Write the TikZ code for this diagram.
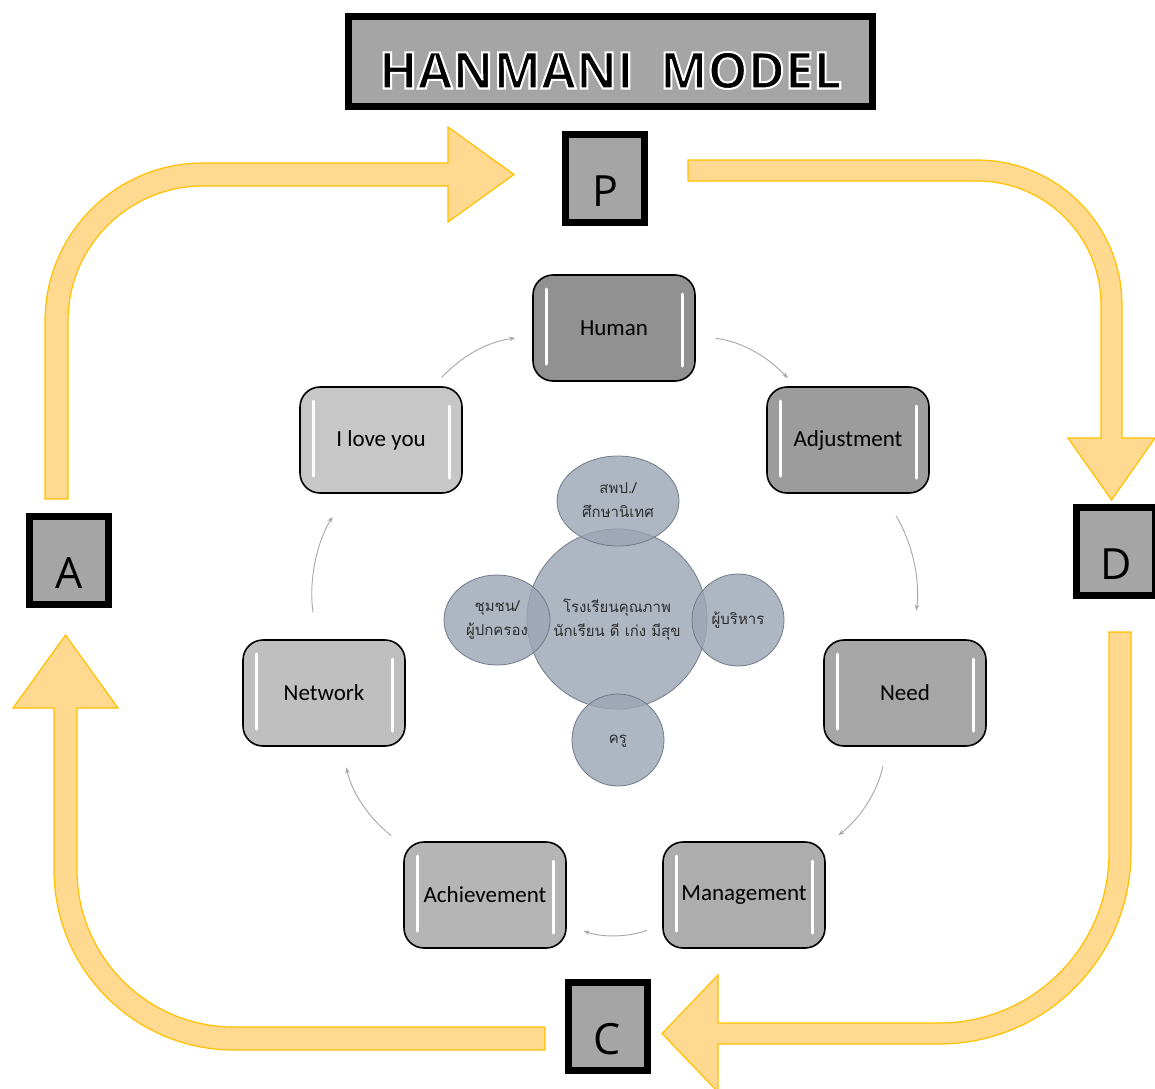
\documentclass[tikz,border=0pt]{standalone}
\usepackage{fontspec}
\setmainfont{Carlito}
\newfontfamily\thaifont[Script=Thai]{Loma}
\newfontfamily\letfont{Open Sans}
\newfontfamily\titlefont[FakeBold=4]{Open Sans}
\usetikzlibrary{arrows.meta}

\begin{document}
\begin{tikzpicture}[x=1pt,y=-1pt,
  mybox/.style={draw=black,line width=1.6pt,rounded corners=20pt,minimum width=162pt,minimum height=106pt,inner sep=0pt,
    font=\fontsize{23}{27}\selectfont,
    path picture={
      \draw[white,line width=3pt,line cap=round] ([xshift=13pt,yshift=-14pt]path picture bounding box.north west) -- ([xshift=13pt,yshift=17pt]path picture bounding box.south west);
      \draw[white,line width=3pt,line cap=round] ([xshift=-13pt,yshift=-19pt]path picture bounding box.north east) -- ([xshift=-13pt,yshift=15pt]path picture bounding box.south east);}},
  mylet/.style={draw=black,line width=7pt,fill=letgray,minimum width=79pt,minimum height=88pt,inner sep=0pt,
    text height=55pt,text depth=0pt,font=\letfont\fontsize{43}{43}\selectfont},
  cyc/.style={draw=cycgray,line width=0.9pt,-{Stealth[length=6pt,width=4.5pt]}},
  mybub/.style={fill=bubfill,fill opacity=0.8,draw=bubline,line width=0.8pt},
  bubtxt/.style={align=center,text=bubtext,font=\thaifont\fontsize{15}{24}\selectfont},
  myarrow/.style={fill=arrfill,draw=arrline,line width=1.2pt}]
\definecolor{letgray}{HTML}{A5A5A5}
\definecolor{cycgray}{HTML}{A6A6A6}
\definecolor{bubfill}{HTML}{9AA4B3}
\definecolor{bubline}{HTML}{6F7A8A}
\definecolor{bubtext}{HTML}{2E2E2E}
\definecolor{arrfill}{HTML}{FFD98F}
\definecolor{arrline}{HTML}{FFC000}
\useasboundingbox (0,0) rectangle (1155,1088);

% big orange arrows
\draw[myarrow] (45,499) -- (45,321) arc[start angle=180,end angle=270,radius=158] -- (448,163) -- (448,127) -- (514,174.5)
  -- (448,222) -- (448,186) -- (203,186) arc[start angle=270,end angle=180,radius=135] -- (68,499) -- cycle;
\draw[myarrow] (688,160) -- (977,160) arc[start angle=270,end angle=360,radius=145] -- (1122,438) -- (1155,438) -- (1111.5,500)
  -- (1068,438) -- (1101,438) -- (1101,305) arc[start angle=0,end angle=-90,radius=124] -- (688,181) -- cycle;
\draw[myarrow] (1109,632) -- (1131,632) -- (1131,852) arc[start angle=0,end angle=90,radius=192] -- (718,1044) -- (718,1092)
  -- (662,1033.5) -- (718,975) -- (718,1023) -- (939,1023) arc[start angle=90,end angle=0,radius=170] -- cycle;
\draw[myarrow] (545,1027) -- (545,1050) -- (234,1050) arc[start angle=90,end angle=180,radius=180] -- (54,708) -- (13,708)
  -- (65.5,635) -- (118,708) -- (77,708) -- (77,870) arc[start angle=180,end angle=90,radius=157] -- cycle;

% title and PDCA letters
\node[draw=black,line width=7pt,fill=letgray,minimum width=524pt,minimum height=90pt,inner sep=0pt,
  text height=54pt,text depth=0pt,font=\titlefont\bfseries\fontsize{50.5}{50.5}\selectfont] (title) at (610.5,61.5)
  {\special{pdf:literal direct 1 1 1 RG}HANMANI\ \ MODEL\special{pdf:literal direct 0 0 0 RG}};
\foreach \ltr/\px/\py in {P/605/178.5, D/1116/551.5, C/607.5/1026.5, A/69/560.5}
  {\node[mylet] (\ltr) at (\px,\py) {\ltr};}

% cycle of boxes
\foreach \nm/\txt/\gr/\px/\py in {human/Human/57/614/328, adj/Adjustment/61/848/440, need/Need/65/905/693,
  mgmt/Management/68/744/895, ach/Achievement/71/485/895, net/Network/75/324/693, love/I love you/78/381/440}
  {\node[mybox,fill=white!\gr!black] (\nm) at (\px,\py) {\txt};}
\foreach \a/\b/\s/\e in {human/adj/20/11, adj/need/26/29, need/mgmt/20/16, mgmt/ach/16/18,
  ach/net/15/21, net/love/27/27, love/human/12/17}
  {\draw[cyc,shorten <=\s pt,shorten >=\e pt] (\a) to[bend left=20] (\b);}

% bubbles in the middle
\draw[mybub] (617,619) circle[radius=90];
\draw[mybub] (618,501) ellipse[x radius=61,y radius=45];
\draw[mybub] (497,620) ellipse[x radius=53,y radius=45];
\draw[mybub] (738,620) circle[radius=46];
\draw[mybub] (618,740) circle[radius=46];
\node[bubtxt] (school) at (617,620) {โรงเรียนคุณภาพ\\นักเรียน ดี เก่ง มีสุข};
\node[bubtxt] (office) at (618,500) {สพป./\\ศึกษานิเทศ};
\node[bubtxt] (parent) at (497,620) {ชุมชน/\\ผู้ปกครอง};
\node[bubtxt] (admin) at (738,620) {ผู้บริหาร};
\node[bubtxt] (teacher) at (618,741) {ครู};
\end{tikzpicture}
\end{document}
